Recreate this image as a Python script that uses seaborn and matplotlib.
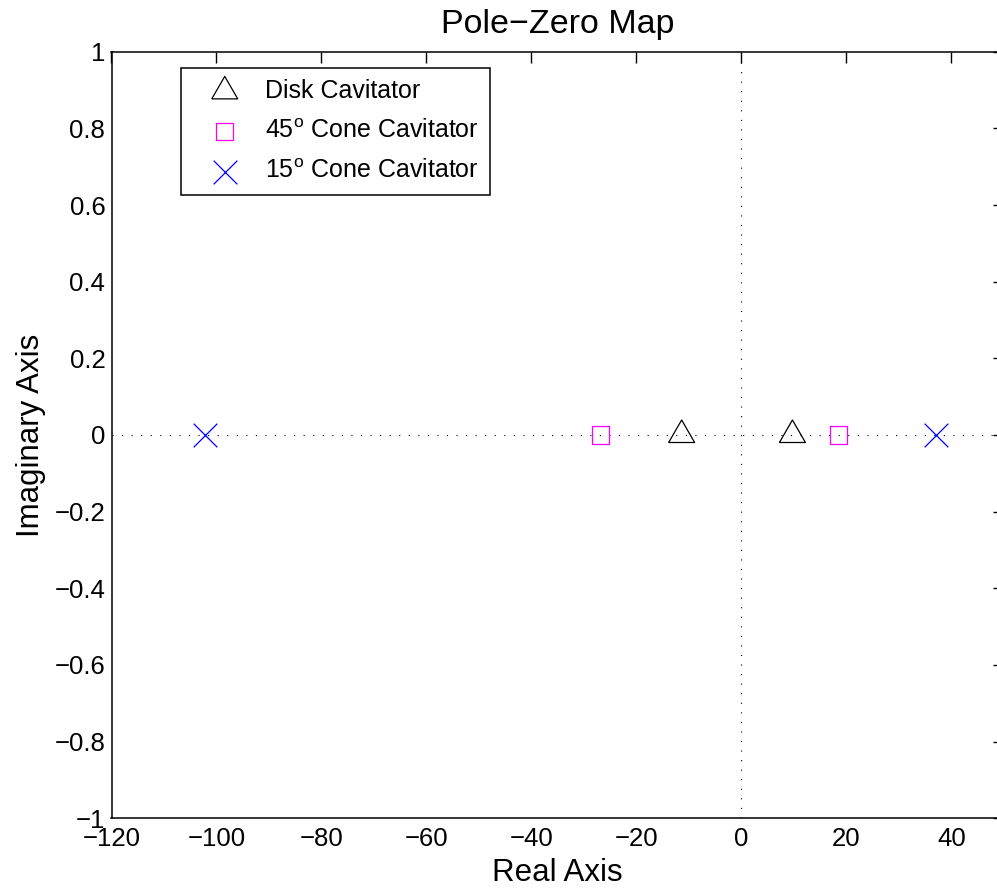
import matplotlib
matplotlib.use("Agg")
import matplotlib.pyplot as plt
import seaborn as sns
import pandas as pd

# Pole locations (real parts; all poles lie on the real axis)
disk_real = [-11.4, 9.7]
cone45_real = [-26.9, 18.4]
cone15_real = [-102.1, 37.1]
imag_part = [0.0, 0.0]

series_labels = ["Disk Cavitator",
                 "45$^{\\mathrm{o}}$ Cone Cavitator",
                 "15$^{\\mathrm{o}}$ Cone Cavitator"]

x_ticks = [-120, -100, -80, -60, -40, -20, 0, 20, 40]
y_ticks = [-1, -0.8, -0.6, -0.4, -0.2, 0, 0.2, 0.4, 0.6, 0.8, 1]
y_tick_labels = ["\u22121", "\u22120.8", "\u22120.6", "\u22120.4", "\u22120.2", "0",
                 "0.2", "0.4", "0.6", "0.8", "1"]

sns.set_theme(style="white")
plt.rcParams["font.family"] = ["Liberation Sans", "DejaVu Sans"]
plt.rcParams["mathtext.fontset"] = "custom"
plt.rcParams["mathtext.rm"] = "Liberation Sans"
plt.rcParams["mathtext.it"] = "Liberation Sans:italic"
plt.rcParams["text.color"] = "black"
plt.rcParams["axes.labelcolor"] = "black"

W, H = 997, 890
fig = plt.figure(figsize=(W / 100, H / 100), dpi=100)
ax_left, ax_top, ax_bottom = 111.5, 51.7, 818.3
ax = fig.add_axes([ax_left / W, (H - ax_bottom) / H, 892.5 / W, (ax_bottom - ax_top) / H])

# dotted reference lines through the origin
dots = (0, (1, 7.6))
ax.axhline(0, color="black", linestyle=dots, linewidth=0.8, zorder=1)
ax.axvline(0, color="black", linestyle=dots, linewidth=0.8, zorder=1)

# equilateral triangle centred on its centroid
tri = [(-1.0, -0.577), (1.0, -0.577), (0.0, 1.155), (-1.0, -0.577)]

disk = pd.DataFrame({"re": disk_real, "im": imag_part})
c45 = pd.DataFrame({"re": cone45_real, "im": imag_part})
c15 = pd.DataFrame({"re": cone15_real, "im": imag_part})

sns.scatterplot(data=disk, x="re", y="im", ax=ax, marker=tri, s=467,
                facecolor="none", edgecolor="black", linewidth=0.9,
                label=series_labels[0], zorder=3)
sns.scatterplot(data=c45, x="re", y="im", ax=ax, marker="s", s=150,
                facecolor="none", edgecolor="#ff00ff", linewidth=0.9,
                label=series_labels[1], zorder=3)
sns.scatterplot(data=c15, x="re", y="im", ax=ax, marker="x", s=290,
                color="#0000ff", linewidth=0.9,
                label=series_labels[2], zorder=3)

ax.set_xlim(-120, 50)
ax.set_ylim(-1, 1)
ax.set_xticks(x_ticks)
ax.set_xticklabels([str(v).replace("-", "\u2212") for v in x_ticks])
ax.set_yticks(y_ticks)
ax.set_yticklabels(y_tick_labels)
ax.tick_params(direction="in", length=8, width=1, top=True, right=True,
               labelsize=18.5, colors="black")
ax.tick_params(axis="x", pad=6.5)
ax.tick_params(axis="y", pad=4.5)

for sp in ax.spines.values():
    sp.set_color("black")
    sp.set_linewidth(1.1)

ax.set_title("Pole\u2212Zero Map", fontsize=24.5, pad=13.5, color="black")
ax.set_xlabel("Real Axis", fontsize=22.5, labelpad=4.5)
ax.set_ylabel("Imaginary Axis", fontsize=22.5, labelpad=6)

leg = ax.legend(loc="upper left",
                bbox_to_anchor=((181 - ax_left) / 892.5, (ax_bottom - 67.7) / (ax_bottom - ax_top)),
                borderaxespad=0, fontsize=18, frameon=True, fancybox=False,
                edgecolor="black", framealpha=1, labelspacing=0.65,
                handlelength=2.6, handletextpad=0.3, borderpad=0.45)
leg.get_frame().set_linewidth(1.1)
for t in leg.get_texts():
    t.set_color("black")

fig.savefig("out.png", dpi=100)
